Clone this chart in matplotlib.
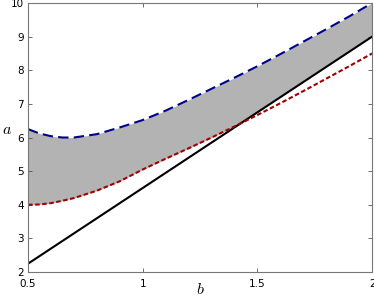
import numpy as np
import matplotlib
matplotlib.use("Agg")
import matplotlib.pyplot as plt

plt.rcParams["mathtext.fontset"] = "cm"

# data
b = [0.5, 0.55, 0.6, 0.65, 0.7, 0.8, 0.9, 1.0, 1.1, 1.2, 1.3, 1.4,
     1.5, 1.6, 1.7, 1.8, 1.9, 2.0]
upper = [6.25, 6.12, 6.04, 6.0, 6.0, 6.1, 6.3, 6.52, 6.8, 7.12, 7.45, 7.78,
         8.12, 8.48, 8.85, 9.22, 9.6, 10.0]
lower = [4.0, 4.01, 4.05, 4.12, 4.2, 4.42, 4.7, 5.05, 5.37, 5.68, 6.0, 6.33,
         6.67, 7.02, 7.38, 7.75, 8.12, 8.5]
line_b = [0.5, 2.0]
line_a = [2.25, 9.0]

fig = plt.figure(figsize=(3.74, 2.98), dpi=100)
ax = fig.add_axes([0.075, 0.087, 0.92, 0.903])

bb = np.array(b)
lin = np.interp(bb, line_b, line_a)
floor = np.maximum(np.array(lower), lin)
ax.fill_between(bb, floor, upper, color="#b3b3b3", lw=0)

ax.plot(line_b, line_a, color="black", lw=1.5)
ax.plot(b, upper, color="#00008b", lw=1.5, dashes=(5, 2.5))
ax.plot(b, lower, color="#a00000", lw=1.5, dashes=(2.2, 1.2))

ax.set_xlim(0.5, 2)
ax.set_ylim(2, 10)
ax.set_xticks([0.5, 1, 1.5, 2])
ax.set_xticklabels(["0.5", "1", "1.5", "2"])
ax.set_yticks(range(2, 11))
ax.tick_params(direction="in", top=True, right=True, labelsize=7.5,
               length=3, width=0.6, color="#555555")
ax.tick_params(axis="x", pad=5)
ax.tick_params(axis="y", pad=3)
for s in ax.spines.values():
    s.set_color("#777777")
    s.set_linewidth(0.8)

# axis labels placed by hand so they stay inside the small canvas
fig.text(200 / 374, 1 - 289 / 298, "$b$", fontsize=11.5, ha="center", va="center")
fig.text(7 / 374, 1 - 130 / 298, "$a$", fontsize=11.5, ha="center", va="center")

fig.savefig("out.png", dpi=100)
